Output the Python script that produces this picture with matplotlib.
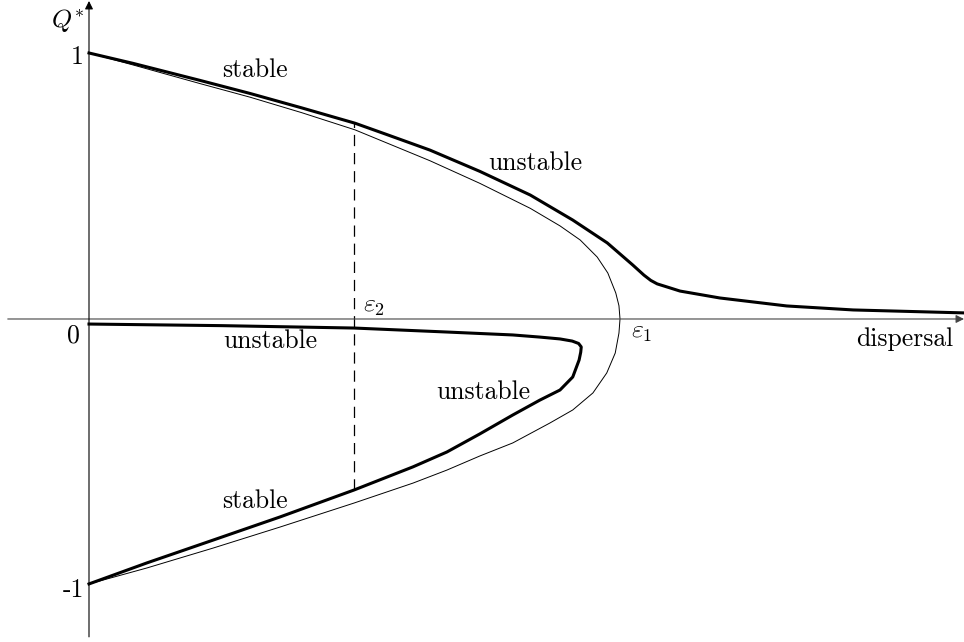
import numpy as np
import matplotlib
matplotlib.use('Agg')
import matplotlib.pyplot as plt
from matplotlib import rc

rc('font', **{'family': 'serif', 'serif': ['cmr10'], 'size': 18.5})
rc('mathtext', fontset='cm')
rc('axes', unicode_minus=False)

# values: (dispersal, Q*) with eps1 = 1
thin_x = [0.0, 0.083, 0.209, 0.303, 0.400, 0.501, 0.642, 0.736, 0.831, 0.887,
          0.925, 0.957, 0.977, 0.992, 0.998, 1.0,
          0.998, 0.991, 0.975, 0.949, 0.911, 0.868, 0.798, 0.736, 0.674,
          0.610, 0.499, 0.360, 0.234, 0.109, 0.0]
thin_q = [1.0, 0.955, 0.885, 0.834, 0.776, 0.711, 0.595, 0.510, 0.416, 0.350,
          0.297, 0.233, 0.173, 0.098, 0.050, 0.0,
          -0.053, -0.128, -0.203, -0.278, -0.342, -0.391, -0.466, -0.515, -0.568,
          -0.617, -0.692, -0.782, -0.861, -0.936, -0.996]

upper_x = [0.0, 0.083, 0.209, 0.303, 0.400, 0.501, 0.560, 0.642, 0.736, 0.831,
           0.911, 0.976, 1.024, 1.045, 1.058, 1.070, 1.094, 1.113, 1.188,
           1.314, 1.439, 1.646]
upper_q = [1.0, 0.961, 0.897, 0.848, 0.794, 0.736, 0.694, 0.635, 0.555, 0.466,
           0.372, 0.286, 0.203, 0.165, 0.145, 0.132, 0.117, 0.105, 0.079,
           0.049, 0.034, 0.023]

lower_x = [0.0, 0.250, 0.499, 0.674, 0.798, 0.849, 0.887, 0.910, 0.922, 0.927,
           0.926, 0.923, 0.911, 0.887, 0.849, 0.798, 0.736, 0.674, 0.610, 0.499,
           0.360, 0.234, 0.109, 0.0]
lower_q = [-0.019, -0.025, -0.034, -0.049, -0.060, -0.068, -0.075, -0.083, -0.092,
           -0.105, -0.125, -0.154, -0.218, -0.267, -0.305, -0.361, -0.432, -0.500,
           -0.556, -0.643, -0.744, -0.831, -0.917, -0.996]

eps2 = 0.499
eps2_top, eps2_bottom = 0.736, -0.643


def plot():
    fig = plt.figure(figsize=(9.64, 6.42), dpi=100)
    ax = fig.add_axes([0, 0, 1, 1])
    ax.set_xlim(-0.1676, 1.6478)
    ax.set_ylim(-1.2143, 1.1992)
    ax.axis('off')

    # axes with arrow heads
    ax.annotate('', xy=(1.6478, 0), xytext=(-0.153, 0),
                arrowprops=dict(arrowstyle='-|>', lw=0.8, color='#444444',
                                shrinkA=0, shrinkB=0, mutation_scale=12))
    ax.annotate('', xy=(0, 1.1955), xytext=(0, -1.195),
                arrowprops=dict(arrowstyle='-|>', lw=0.8, color='black',
                                shrinkA=0, shrinkB=0, mutation_scale=12))

    ax.plot(thin_x, thin_q, color='black', lw=0.7, solid_joinstyle='round')
    ax.plot(upper_x, upper_q, color='black', lw=2.2, solid_joinstyle='round')
    ax.plot(lower_x, lower_q, color='black', lw=2.2, solid_joinstyle='round')
    ax.plot([eps2, eps2], [eps2_bottom, eps2_top], color='black', lw=0.9,
            linestyle=(0, (9, 5.5)))

    ax.text(-0.0094, 1.094, r'$Q^{*}$', ha='right', va='baseline')
    ax.text(-0.011, 0.959, '1', ha='right', va='baseline')
    ax.text(-0.017, -0.090, '0', ha='right', va='baseline')
    ax.text(-0.0094, -1.045, '-1', ha='right', va='baseline')

    ax.text(0.313, 0.910, 'stable', ha='center', va='baseline')
    ax.text(0.841, 0.560, 'unstable', ha='center', va='baseline')
    ax.text(0.342, -0.109, 'unstable', ha='center', va='baseline')
    ax.text(0.742, -0.301, 'unstable', ha='center', va='baseline')
    ax.text(0.313, -0.711, 'stable', ha='center', va='baseline')

    ax.text(0.516, 0.026, r'$\varepsilon_2$', ha='left', va='baseline')
    ax.text(1.021, -0.071, r'$\varepsilon_1$', ha='left', va='baseline')
    ax.text(1.627, -0.102, 'dispersal', ha='right', va='baseline')

    fig.savefig('out.png', dpi=100)

plot()
